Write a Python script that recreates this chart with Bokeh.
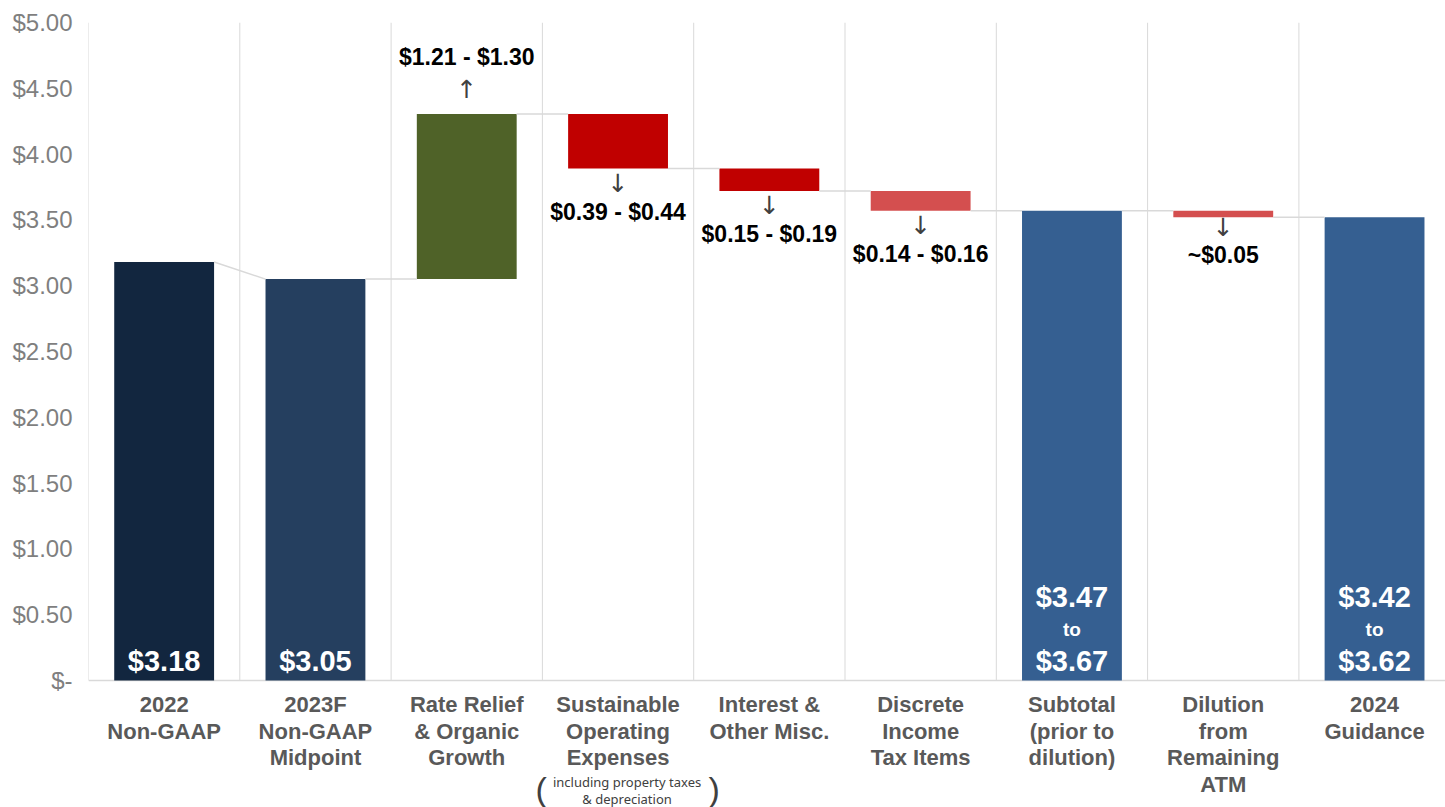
from bokeh.plotting import figure
from bokeh.models import FixedTicker, ColumnDataSource, Range1d
from bokeh.core.properties import value
from bokeh.embed import file_html
from bokeh.resources import INLINE

# ---------------- data ----------------
categories = [
    "2022\nNon-GAAP",
    "2023F\nNon-GAAP\nMidpoint",
    "Rate Relief\n& Organic\nGrowth",
    "Sustainable\nOperating\nExpenses",
    "Interest &\nOther Misc.",
    "Discrete\nIncome\nTax Items",
    "Subtotal\n(prior to\ndilution)",
    "Dilution\nfrom\nRemaining\nATM",
    "2024\nGuidance",
]
kinds = ["total", "total", "up", "down", "down", "down", "total", "down", "total"]
amounts = [3.18, 3.05, 1.255, 0.415, 0.17, 0.15, 3.57, 0.05, 3.52]
bar_colors = ["#12263F", "#253F5F", "#4F6228", "#C00000", "#C00000",
              "#D44F4F", "#355F91", "#D44F4F", "#355F91"]
change_labels = ["", "", "$1.21 - $1.30", "$0.39 - $0.44", "$0.15 - $0.19",
                 "$0.14 - $0.16", "", "~$0.05", ""]
total_low_labels = ["$3.18", "$3.05", "", "", "", "", "$3.67", "", "$3.62"]
total_high_labels = ["", "", "", "", "", "", "$3.47", "", "$3.42"]
total_to_labels = ["", "", "", "", "", "", "to", "", "to"]
y_ticks = [0.0, 0.5, 1.0, 1.5, 2.0, 2.5, 3.0, 3.5, 4.0, 4.5, 5.0]
y_tick_labels = ["$-", "$0.50", "$1.00", "$1.50", "$2.00", "$2.50",
                 "$3.00", "$3.50", "$4.00", "$4.50", "$5.00"]
note_category = 3
note_lines = ["including property taxes", "& depreciation"]

# ---------------- waterfall geometry ----------------
xs = list(range(len(categories)))
bottoms, tops, c_in, c_out = [], [], [], []
level = 0.0
for k, a in zip(kinds, amounts):
    if k == "total":
        b, t = 0.0, a
        ci = co = a
        level = a
    elif k == "up":
        b, t = level, level + a
        ci, co = level, t
        level = t
    else:
        b, t = level - a, level
        ci, co = level, b
        level = b
    bottoms.append(b); tops.append(t); c_in.append(ci); c_out.append(co)

BW = 0.66
FONT = "Liberation Sans"
W, H = 1445, 807
LEFT, TOP = 88, 22
PX_CAT = 151.3
PX_UNIT = 131.6          # pixels per $1
BASE_PX = 680            # pixel row of $0

y_lo = -(H - BASE_PX) / PX_UNIT
p = figure(width=W, height=H, output_backend="svg", toolbar_location=None,
           x_range=Range1d(-0.5, -0.5 + (W - LEFT) / PX_CAT),
           y_range=Range1d(y_lo, y_ticks[-1]),
           min_border_left=LEFT, min_border_right=0, min_border_top=TOP,
           min_border_bottom=0)
p.outline_line_color = None
p.background_fill_color = "white"
p.xaxis.visible = False
p.xgrid.grid_line_color = None
p.ygrid.grid_line_color = None

# category separators and baseline
bounds = [x - 0.5 for x in xs] + [len(xs) - 0.5]
p.segment(x0=bounds, y0=[0] * len(bounds), x1=bounds,
          y1=[y_ticks[-1]] * len(bounds), line_color="#D9D9D9", line_width=1)
p.segment(x0=[bounds[0]], y0=[0], x1=[bounds[-1] + 1], y1=[0],
          line_color="#D9D9D9", line_width=1.5)

src = ColumnDataSource(dict(x=xs, bottom=bottoms, top=tops, color=bar_colors))
p.vbar(x="x", width=BW, bottom="bottom", top="top", fill_color="color",
       line_color=None, source=src)

# connectors
p.segment(x0=[x + BW / 2 for x in xs[:-1]], y0=c_out[:-1],
          x1=[x + 1 - BW / 2 for x in xs[:-1]], y1=c_in[1:],
          line_color="#D9D9D9", line_width=1.5)

# totals labels inside bars
zeros = [0] * len(xs)
p.text(x=xs, y=zeros, text=total_low_labels, y_offset=-20,
       text_align="center", text_baseline="middle", text_color="white",
       text_font=value(FONT), text_font_style="bold", text_font_size="29px")
p.text(x=xs, y=zeros, text=total_high_labels, y_offset=-84,
       text_align="center", text_baseline="middle", text_color="white",
       text_font=value(FONT), text_font_style="bold", text_font_size="29px")
p.text(x=xs, y=zeros, text=total_to_labels, y_offset=-51,
       text_align="center", text_baseline="middle", text_color="white",
       text_font=value(FONT), text_font_style="bold", text_font_size="19px")

# change labels
up_x = [x for x, k in zip(xs, kinds) if k == "up"]
up_y = [t for t, k in zip(tops, kinds) if k == "up"]
up_t = [c for c, k in zip(change_labels, kinds) if k == "up"]
dn_x = [x for x, k in zip(xs, kinds) if k == "down"]
dn_y = [b for b, k in zip(bottoms, kinds) if k == "down"]
dn_t = [c for c, k in zip(change_labels, kinds) if k == "down"]
# thin bars get their arrow a little closer
dn_a = [10 if (t - b) * PX_UNIT < 10 else 15
        for b, t, k in zip(bottoms, tops, kinds) if k == "down"]
dn_l = [o + 28 for o in dn_a]

ARROW_FONT = "DejaVu Sans"
p.text(x=up_x, y=up_y, text=["\u2191"] * len(up_x), y_offset=-24,
       text_align="center", text_baseline="middle", text_color="#404040",
       text_font=value(ARROW_FONT), text_font_size="25px")
p.text(x=up_x, y=up_y, text=up_t, y_offset=-57,
       text_align="center", text_baseline="middle", text_color="black",
       text_font=value(FONT), text_font_style="bold", text_font_size="23px")
p.text(x=dn_x, y=dn_y, text=["\u2193"] * len(dn_x), y_offset=dn_a,
       text_align="center", text_baseline="middle", text_color="#404040",
       text_font=value(ARROW_FONT), text_font_size="25px")
p.text(x=dn_x, y=dn_y, text=dn_t, y_offset=dn_l,
       text_align="center", text_baseline="middle", text_color="black",
       text_font=value(FONT), text_font_style="bold", text_font_size="23px")

# category labels (one glyph row per line)
lab_x, lab_t, lab_off = [], [], []
for x, c in zip(xs, categories):
    for i, line in enumerate(c.split("\n")):
        lab_x.append(x); lab_t.append(line); lab_off.append(24 + 26.5 * i)
lsrc = ColumnDataSource(dict(x=lab_x, y=[0] * len(lab_x), text=lab_t, off=lab_off))
p.text(x="x", y="y", text="text", y_offset="off", source=lsrc,
       text_align="center", text_baseline="middle", text_color="#595959",
       text_font=value(FONT), text_font_style="bold", text_font_size="22px")

# note under "Sustainable Operating Expenses"
p.text(x=[note_category] * 2, y=[0, 0], text=note_lines, y_offset=[101, 118],
       x_offset=9, text_align="center", text_baseline="middle",
       text_color="#404040", text_font=value("Noto Sans"),
       text_font_size="13px")
p.text(x=[note_category] * 2, y=[0, 0], text=["(", ")"], y_offset=[108, 108],
       x_offset=[-77, 96], text_align="center", text_baseline="middle",
       text_color="#404040", text_font=value(FONT), text_font_size="34px")

# y axis
p.yaxis.ticker = FixedTicker(ticks=y_ticks)
p.yaxis.major_label_overrides = {t: l for t, l in zip(y_ticks, y_tick_labels)}
p.yaxis.axis_line_color = None
p.yaxis.major_tick_line_color = None
p.yaxis.minor_tick_line_color = None
p.yaxis.major_label_text_font = FONT
p.yaxis.major_label_text_font_size = "24px"
p.yaxis.major_label_text_color = "#7F7F7F"
p.yaxis.major_label_standoff = 10

open("out.html", "w").write(file_html(p, INLINE))
